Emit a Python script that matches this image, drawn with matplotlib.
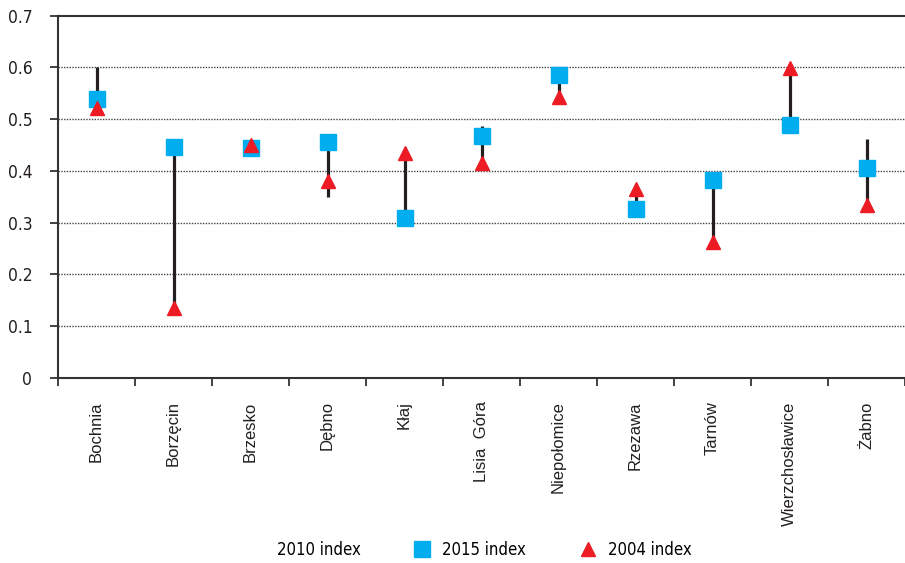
import numpy as np
import matplotlib.pyplot as plt
from matplotlib.lines import Line2D
from matplotlib import font_manager

towns = ['Bochnia', 'Borzęcin', 'Brzesko', 'Dębno', 'Kłaj', 'Lisia  Góra',
         'Niepołomice', 'Rzezawa', 'Tarnów', 'Wierzchosławice', 'Żabno']
index_2010 = [0.60, 0.30, 0.447, 0.35, 0.37, 0.487, 0.56, 0.345, 0.32, 0.55, 0.462]
index_2015 = [0.539, 0.446, 0.445, 0.456, 0.309, 0.467, 0.585, 0.326, 0.382, 0.489, 0.406]
index_2004 = [0.521, 0.135, 0.450, 0.381, 0.434, 0.416, 0.542, 0.364, 0.262, 0.599, 0.333]

blue = '#00aeef'
red = '#ed1c24'
dark = '#231f20'

# look for a narrow / condensed face, as the reference uses one for numbers
cond = None
for f in font_manager.fontManager.ttflist:
    if 'Narrow' in f.name or 'Condensed' in f.name or f.stretch in ('condensed', 'semi-condensed', 600, 500):
        if f.style == 'normal' and f.weight in (400, 'normal', 'regular'):
            cond = f
            break
if cond is not None:
    narrow = font_manager.FontProperties(fname=cond.fname)
    tick_size, leg_size = 12.5, 12
else:
    narrow = font_manager.FontProperties(family='Liberation Sans')
    tick_size, leg_size = 11, 11

fig = plt.figure(figsize=(9.05, 5.63), dpi=100)
ax = fig.add_axes([58 / 905, 1 - 377.7 / 563, 847 / 905, 362 / 563])

x = np.arange(len(towns))
allv = np.array([index_2010, index_2015, index_2004])
ax.vlines(x, allv.min(axis=0), allv.max(axis=0), color=dark, lw=2.3, zorder=2)
ax.plot(x, index_2015, ls='none', marker='s', ms=11.5, color=blue, zorder=3)
ax.plot(x, index_2004, ls='none', marker='^', ms=10.5, color=red, zorder=4)

ax.set_xlim(-0.5, -0.5 + 847 / 77.6)
ax.set_ylim(0, 0.7)
ax.set_yticks(np.arange(0, 0.71, 0.1))
ax.set_yticklabels(['0', '0.1', '0.2', '0.3', '0.4', '0.5', '0.6', '0.7'],
                   color='#231f20')
for t in ax.get_yticklabels():
    t.set_fontproperties(narrow)
    t.set_fontsize(tick_size)
for yv in np.arange(0.1, 0.65, 0.1):
    ax.axhline(yv, color='#444444', lw=1, ls=(0, (1, 1)), zorder=1)

ax.set_xticks(x)
ax.set_xticklabels(towns, rotation=90, va='top', ha='center', fontsize=12,
                   family='Liberation Sans', color='#231f20')
ax.set_xticks(np.arange(-0.5, len(towns), 1), minor=True)
ax.tick_params(axis='x', which='major', length=0, pad=17)
ax.tick_params(axis='x', which='minor', length=6, width=1.3, color='#333333')
ax.tick_params(axis='y', length=6, width=1.3, color='#333333', pad=12.5)

for s in ['left', 'bottom', 'top']:
    ax.spines[s].set_color('#333333')
    ax.spines[s].set_linewidth(1.5)
ax.spines['right'].set_visible(False)

leg_prop = narrow.copy()
leg_prop.set_size(leg_size)
handles = [Line2D([], [], ls='none'),
           Line2D([], [], ls='none', marker='s', ms=11.5, color=blue),
           Line2D([], [], ls='none', marker='^', ms=10.5, color=red)]
fig.legend(handles, ['2010 index', '2015 index', '2004 index'], ncol=3,
           loc='center', bbox_to_anchor=(470 / 905, 1 - 550 / 563), frameon=False,
           prop=leg_prop, handlelength=1.0, handletextpad=0.7, columnspacing=3.2)

fig.savefig('out.png', dpi=100)
